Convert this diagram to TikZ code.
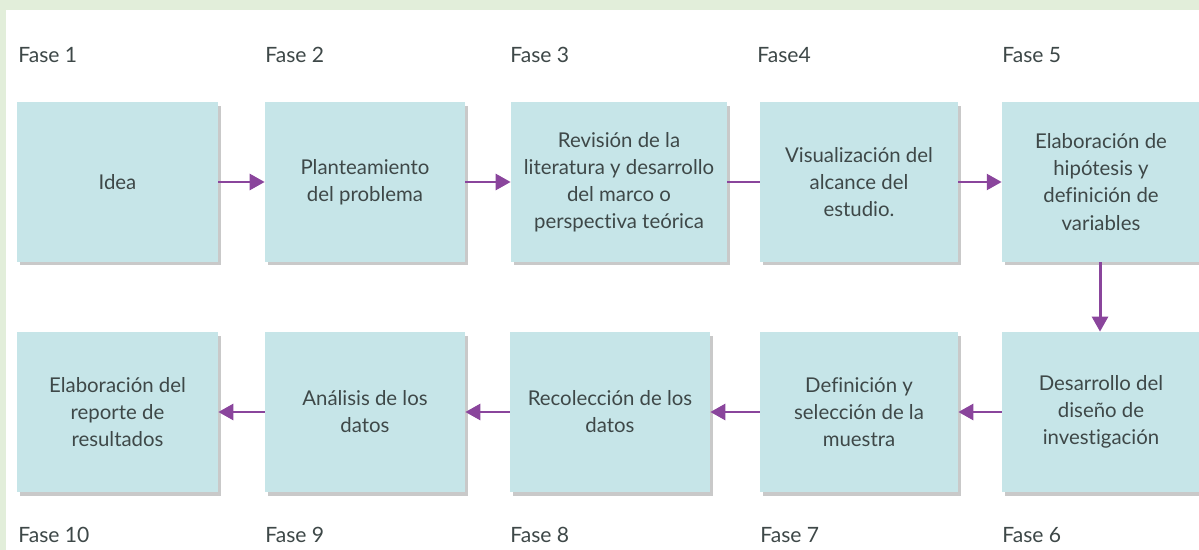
\documentclass[tikz,border=0pt]{standalone}
\usepackage{fontspec}
\setmainfont{Lato}[Ligatures=NoCommon]
\usetikzlibrary{arrows.meta,shadows}

\definecolor{paleGreen}{HTML}{E2EEDA}
\definecolor{boxBlue}{HTML}{C6E5E8}
\definecolor{flowPurple}{HTML}{8A459C}
\definecolor{textGray}{HTML}{3E4848}

\begin{document}
\begin{tikzpicture}[x=0.02cm, y=-0.02cm,
    fase/.style={draw=none, fill=boxBlue, minimum height=3.2cm, align=center, text=textGray,
        font=\fontsize{11.6}{15.4}\selectfont, inner sep=0pt,
        drop shadow={shadow xshift=1.5pt, shadow yshift=-2pt, opacity=0.35, fill=black!60}},
    faselabel/.style={anchor=base west, inner sep=0pt, text=textGray, font=\fontsize{12}{14}\selectfont},
    flow/.style={draw=flowPurple, line width=1.7pt, -{Triangle[length=8.5pt,width=9pt]}}]
% Frame
\useasboundingbox (0,0) rectangle (1199,550);
\fill[paleGreen] (0,0) rectangle (1199,550);
\fill[white] (6,10) rectangle (1199,550);

% Top row
\node[fase, minimum width=4.02cm] (f1) at (117.5,182) {Idea};
\node[fase, minimum width=4cm] (f2) at (365,182) {Planteamiento\\del problema};
\node[fase, minimum width=4.32cm] (f3) at (619,182) {Revisión de la\\literatura y desarrollo\\del marco o\\perspectiva teórica};
\node[fase, minimum width=3.96cm] (f4) at (859,182) {Visualización del\\alcance del\\estudio.};
\node[fase, minimum width=3.96cm] (f5) at (1101,182) {Elaboración de\\hipótesis y\\definición de\\variables};

% Bottom row
\node[fase, minimum width=3.96cm] (f6) at (1101,412) {Desarrollo del\\diseño de\\investigación};
\node[fase, minimum width=3.96cm] (f7) at (859,412) {Definición y\\selección de la\\muestra};
\node[fase, minimum width=4cm] (f8) at (610,412) {Recolección de los\\datos};
\node[fase, minimum width=4cm] (f9) at (365,412) {Análisis de los\\datos};
\node[fase, minimum width=4.02cm] (f10) at (117.5,412) {Elaboración del\\reporte de\\resultados};

% Phase labels
\node[faselabel] (l1) at (18,62.5) {Fase 1};
\node[faselabel] (l2) at (265,62.5) {Fase 2};
\node[faselabel] (l3) at (510,62.5) {Fase 3};
\node[faselabel] (l4) at (757,62.5) {Fase4};
\node[faselabel] (l5) at (1002,62.5) {Fase 5};
\node[faselabel] (l10) at (18,542) {Fase 10};
\node[faselabel] (l9) at (265,542) {Fase 9};
\node[faselabel] (l8) at (510,542) {Fase 8};
\node[faselabel] (l7) at (760,542) {Fase 7};
\node[faselabel] (l6) at (1002,542) {Fase 6};

% Connectors
\draw[flow] (f1) -- (f2);
\draw[flow] (f2) -- (f3);
\draw[draw=flowPurple, line width=1.7pt] (f3) -- (f4);
\draw[flow] (f4) -- (f5);
\draw[flow] (f5.south -| 1100,0) -- (f6.north -| 1100,0);
\draw[flow] (f6) -- (f7);
\draw[flow] (f7) -- (f8);
\draw[flow] (f8) -- (f9);
\draw[flow] (f9) -- (f10);
\end{tikzpicture}
\end{document}
